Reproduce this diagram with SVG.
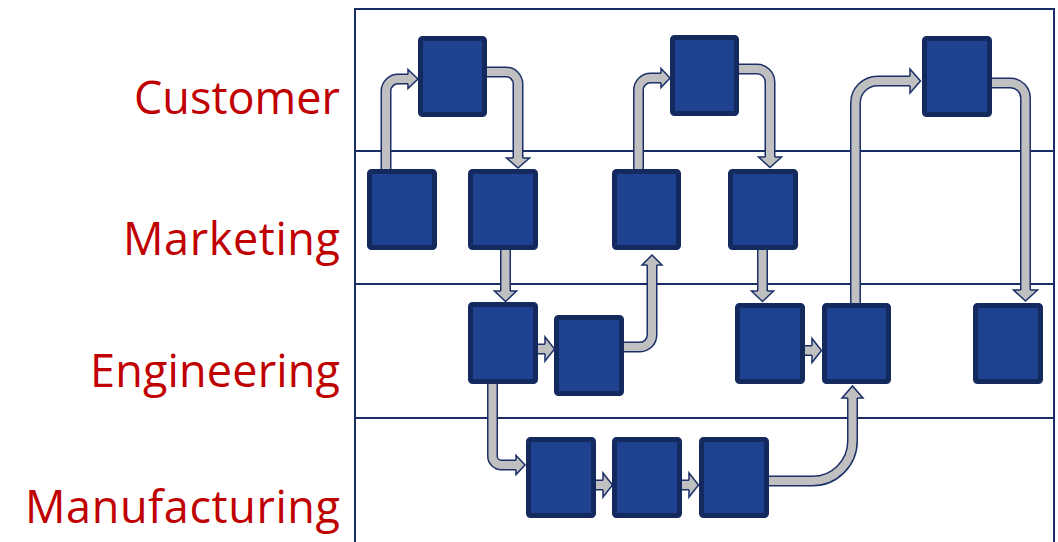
<svg xmlns="http://www.w3.org/2000/svg" width="1058" height="542" viewBox="0 0 1058 542">
  <style>
    .frame { fill: none; stroke: #1b2d66; stroke-width: 2; }
    .lane-label { font-family: "Open Sans", "Liberation Sans", sans-serif; font-size: 45px; fill: #c00000; text-anchor: end; }
    .box { fill: #1f4290; stroke: #14295e; stroke-width: 5; }
    .casing { fill: none; stroke: #1b2f68; stroke-width: 11; }
    .core { fill: none; stroke: #c0c0c0; stroke-width: 8; }
    .heads path { fill: #c0c0c0; stroke: #1b2f68; stroke-width: 1.5; stroke-linejoin: miter; }
  </style>
  <defs>
    <!-- shaft centre lines, each ending at the base of its arrowhead -->
    <path id="s1" d="M386,174 V91 A12,12 0 0 1 398,79 H408"/>
    <path id="s2" d="M484,72 H506 A12,12 0 0 1 518,84 V158"/>
    <path id="s3" d="M505.5,247 V291"/>
    <path id="s4" d="M536,349 H545"/>
    <path id="s5" d="M622,347 H640 A12,12 0 0 0 652,335 V265"/>
    <path id="s6" d="M638.5,174 V90 A12,12 0 0 1 650.5,78 H661"/>
    <path id="s7" d="M737,69 H757 A13,13 0 0 1 770,82 V157"/>
    <path id="s8" d="M762.5,248 V291"/>
    <path id="s9" d="M803,350.5 H812"/>
    <path id="s10" d="M855.5,305 V103 A22,22 0 0 1 877.5,81 H910"/>
    <path id="s11" d="M990,83 H1010.5 A15,15 0 0 1 1025.5,98 V290"/>
    <path id="s12" d="M492.5,383 V456 A9,9 0 0 0 501.5,465 H516"/>
    <path id="s13" d="M594,485 H603"/>
    <path id="s14" d="M680,485 H689"/>
    <path id="s15" d="M767,481 H812.5 A40,40 0 0 0 852.5,441 V398"/>
  </defs>

  <g id="lanes">
    <path class="frame" d="M355,542 V9 H1054 V542"/>
    <line class="frame" x1="355" y1="151" x2="1054" y2="151"/>
    <line class="frame" x1="355" y1="284" x2="1054" y2="284"/>
    <line class="frame" x1="355" y1="418" x2="1054" y2="418"/>
    <text class="lane-label" x="340" y="113.5" textLength="206">Customer</text>
    <text class="lane-label" x="340" y="254.5" textLength="217">Marketing</text>
    <text class="lane-label" x="340" y="387" textLength="250">Engineering</text>
    <text class="lane-label" x="340" y="522.5" textLength="315">Manufacturing</text>
  </g>

  <g id="connectors">
    <g class="casing">
      <use href="#s1"/><use href="#s2"/><use href="#s3"/><use href="#s4"/><use href="#s5"/>
      <use href="#s6"/><use href="#s7"/><use href="#s8"/><use href="#s9"/><use href="#s10"/>
      <use href="#s11"/><use href="#s12"/><use href="#s13"/><use href="#s14"/><use href="#s15"/>
    </g>
    <g class="core">
      <use href="#s1"/><use href="#s2"/><use href="#s3"/><use href="#s4"/><use href="#s5"/>
      <use href="#s6"/><use href="#s7"/><use href="#s8"/><use href="#s9"/><use href="#s10"/>
      <use href="#s11"/><use href="#s12"/><use href="#s13"/><use href="#s14"/><use href="#s15"/>
    </g>
    <g class="heads">
      <path d="M408,74.25 V69.5 L418,79 L408,88.5 V83.75"/>
      <path d="M513.25,158 H506.5 L518,168 L529.5,158 H522.75"/>
      <path d="M500.75,291 H494.5 L505.5,301.5 L516.5,291 H510.25"/>
      <path d="M545,344.25 V337 L554.5,349 L545,361 V353.75"/>
      <path d="M647.25,265 H642 L652,255 L662,265 H656.75"/>
      <path d="M661,73.25 V68.5 L670,78 L661,87.5 V82.75"/>
      <path d="M765.25,157 H758.5 L770,167.5 L781.5,157 H774.75"/>
      <path d="M757.75,291 H751.5 L762.5,301.5 L773.5,291 H767.25"/>
      <path d="M812,345.75 V338.5 L821.5,350.5 L812,362.5 V355.25"/>
      <path d="M910,76.25 V69 L920.5,81 L910,93 V85.75"/>
      <path d="M1020.75,290 H1013.5 L1025.5,301 L1037.5,290 H1030.25"/>
      <path d="M516,460.25 V455.5 L525,465 L516,474.5 V469.75"/>
      <path d="M603,480.25 V473 L612.5,485 L603,497 V489.75"/>
      <path d="M689,480.25 V473 L698.5,485 L689,497 V489.75"/>
      <path d="M847.75,398 H842 L852.5,386 L863,398 H857.25"/>
    </g>
  </g>

  <!-- Customer lane -->
  <g id="customer-1"><rect class="box" x="420.5" y="38.5" width="64" height="76" rx="2"/></g>
  <g id="customer-2"><rect class="box" x="672.5" y="37.5" width="64" height="76" rx="2"/></g>
  <g id="customer-3"><rect class="box" x="924.5" y="38.5" width="65" height="76" rx="2"/></g>
  <!-- Marketing lane -->
  <g id="marketing-1"><rect class="box" x="369.5" y="171.5" width="65" height="76" rx="2"/></g>
  <g id="marketing-2"><rect class="box" x="470.5" y="171.5" width="65" height="76" rx="2"/></g>
  <g id="marketing-3"><rect class="box" x="614.5" y="171.5" width="64" height="76" rx="2"/></g>
  <g id="marketing-4"><rect class="box" x="730.5" y="171.5" width="65" height="76" rx="2"/></g>
  <!-- Engineering lane -->
  <g id="engineering-1"><rect class="box" x="470.5" y="304.5" width="65" height="77" rx="2"/></g>
  <g id="engineering-2"><rect class="box" x="556.5" y="317.5" width="65" height="76" rx="2"/></g>
  <g id="engineering-3"><rect class="box" x="737.5" y="305.5" width="65" height="76" rx="2"/></g>
  <g id="engineering-4"><rect class="box" x="824.5" y="305.5" width="64" height="76" rx="2"/></g>
  <g id="engineering-5"><rect class="box" x="975.5" y="305.5" width="65" height="76" rx="2"/></g>
  <!-- Manufacturing lane -->
  <g id="manufacturing-1"><rect class="box" x="528.5" y="439.5" width="65" height="76" rx="2"/></g>
  <g id="manufacturing-2"><rect class="box" x="614.5" y="439.5" width="65" height="76" rx="2"/></g>
  <g id="manufacturing-3"><rect class="box" x="701.5" y="439.5" width="65" height="76" rx="2"/></g>
</svg>
